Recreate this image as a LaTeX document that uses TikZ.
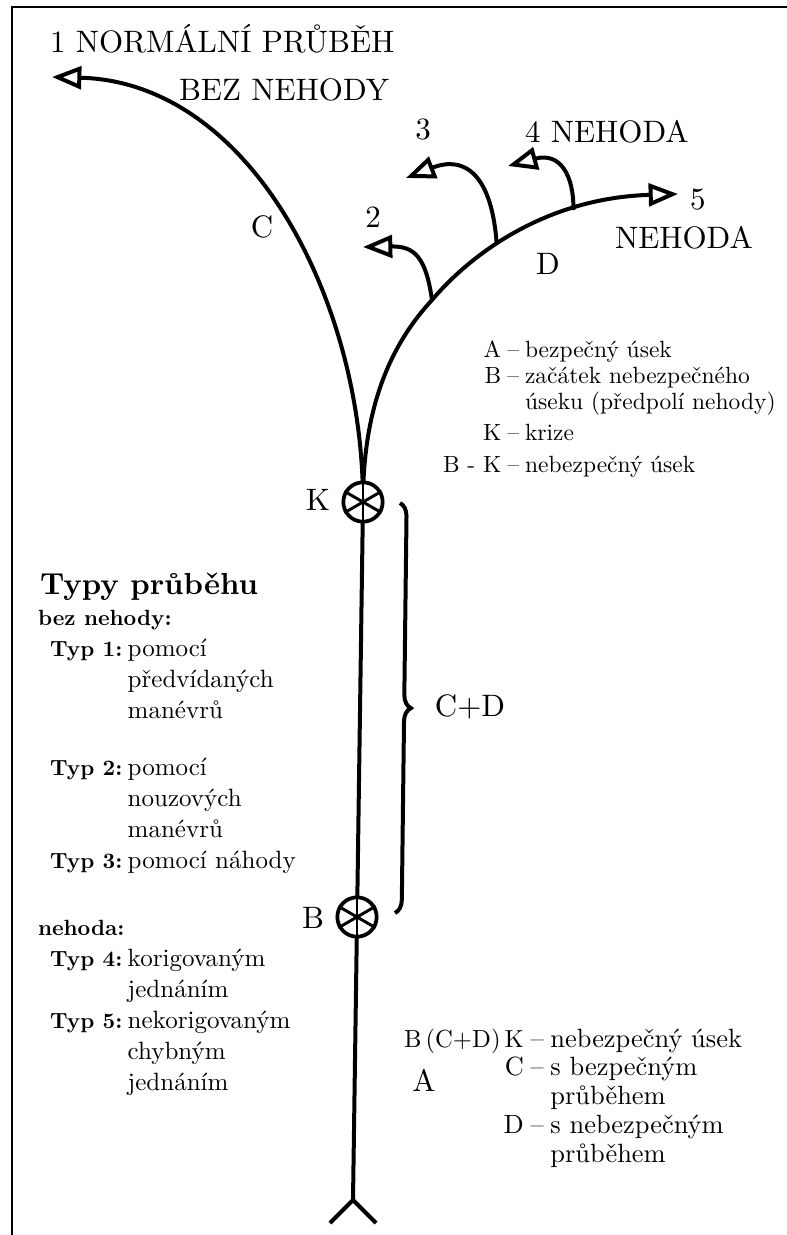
\documentclass[tikz,border=0pt]{standalone}
\usepackage{fontspec}
\setmainfont{lmroman10-regular}[Extension=.otf, BoldFont=lmroman10-bold]
\usetikzlibrary{arrows.meta,decorations.pathreplacing,positioning}

\newcommand{\lblsize}{\fontsize{23.25}{28}\selectfont}
\newcommand{\keysize}{\fontsize{17.6}{19.5}\selectfont}
\newcommand{\keybsize}{\fontsize{19.8}{21.6}\selectfont}
\newcommand{\typsize}{\fontsize{18.75}{23.25}\selectfont}
\newcommand{\typb}{\bfseries\fontsize{16.5}{20}\selectfont}

\begin{document}
\begin{tikzpicture}[x=0.75pt, y=-0.75pt, line width=3pt,
    outcome/.style={-{Triangle[open, length=22pt, width=17pt]}},
    wheel/.style={circle, draw, fill=white, line width=2.8pt, minimum size=29.5pt, inner sep=0pt},
    spoke/.style={line width=2.2pt},
    lbl/.style={font=\lblsize, inner sep=0pt},
    keytext/.style={inner sep=0pt, anchor=base west}]
    \useasboundingbox (0,0) rectangle (787,1235);

    \coordinate (k) at (363,502);
    \coordinate (b) at (357,917);
    \coordinate (fork) at (353,1200);
    \coordinate (legL) at (330,1223);
    \coordinate (legR) at (376,1223);
    \coordinate (end1) at (52,77);
    \coordinate (end5) at (678,194);
    \coordinate (br2) at (432,300);
    \coordinate (end2) at (363,247);
    \coordinate (end3) at (406,178);
    \coordinate (end4) at (508,166);
    \coordinate (braceTop) at (400,503);
    \coordinate (braceBot) at (395,913);

    % Frame
    \draw[line width=1.5pt] (12,1235) -- (12,7) -- (787,7);

    % Trunk
    \draw (legL) -- (fork) -- (legR);
    \draw (fork) -- (k);

    % Branches C and D
    \draw[outcome] (k) .. controls (363,300) and (250,82) .. (end1);
    \draw[outcome] (k) .. controls (363,400) and (395,340) .. (br2)
        .. controls (470,255) and (545,198) .. (end5)
        coordinate[pos=0.4] (br3) coordinate[pos=0.7] (br4);

    % Side branches
    \draw[outcome] (br2) .. controls (426,258) and (415,246) .. (end2);
    \draw[outcome] (br3) .. controls (492,175) and (465,155) .. (end3);
    \draw[outcome] (br4) .. controls (574,175) and (560,152) .. (end4);

    % Points K and B
    \node[wheel] (K) at (k) {};
    \node[wheel] (B) at (b) {};
    \draw[spoke] (K.90) -- (K.270);
    \draw[spoke] (K.30) -- (K.210);
    \draw[spoke] (K.150) -- (K.330);
    \draw[spoke] (B.90) -- (B.270);
    \draw[spoke] (B.30) -- (B.210);
    \draw[spoke] (B.150) -- (B.330);

    % Brace
    \draw[decorate, decoration={brace, amplitude=10pt}] (braceTop) -- (braceBot);

    % Labels
    \node[lbl, anchor=base west] (out1) at (48,52) {1 NORMÁLNÍ PRŮBĚH};
    \node[lbl, anchor=base west] (out1b) at (177,100) {BEZ NEHODY};
    \node[lbl] (labC) at (262,227) {C};
    \node[lbl] (out2) at (373,217) {2};
    \node[lbl] (out3) at (423,130) {3};
    \node[lbl, anchor=base west] (out4) at (523,142) {4 NEHODA};
    \node[lbl, anchor=base west] (out5) at (688,209) {5};
    \node[lbl, anchor=base west] (out5b) at (613,248) {NEHODA};
    \node[lbl] (labD) at (548,264) {D};
    \node[lbl] (labK) at (318,500) {K};
    \node[lbl] (labB) at (313,918) {B};
    \node[lbl] (labCD) at (470,707) {C+D};
    \node[lbl] (labA) at (424,1080) {A};

    % Key, top right
    \node[keytext, font=\keysize] (key1) at (441,357) {%
        \begin{tabular}[t]{@{}r@{\hspace{4.5pt}}c@{\hspace{4.5pt}}l@{}}
        A & -- & bezpečný úsek\\
        B & -- & začátek nebezpečného\\
          &    & úseku (předpolí nehody)\\[3.75pt]
        K & -- & krize\\[4.5pt]
        B - K & -- & nebezpečný úsek
        \end{tabular}};

    % Key, bottom right
    \node[keytext, font=\keybsize] (key2) at (402,1047) {%
        \begin{tabular}[t]{@{}r@{\hspace{5pt}}c@{\hspace{5pt}}l@{}}
        {\fontsize{18.5}{20}\selectfont B\,(C+D)\,K} & -- & nebezpečný úsek\\
        C & -- & s bezpečným\\
          &    & průběhem\\
        D & -- & s nebezpečným\\
          &    & průběhem
        \end{tabular}};

    % Types
    \node[keytext, font=\bfseries\fontsize{22.8}{27}\selectfont] (types) at (38,594) {Typy průběhu};
    \node[keytext, font=\typsize] (typelist) at (36,625) {%
        \begin{tabular}[t]{@{\hspace{9pt}}l@{\hspace{4pt}}l@{}}
        \multicolumn{2}{@{}l@{}}{\typb bez nehody:}\\
        \typb Typ 1: & pomocí\\
                     & předvídaných\\
                     & manévrů\\[19.5pt]
        \typb Typ 2: & pomocí\\
                     & nouzových\\
                     & manévrů\\
        \typb Typ 3: & pomocí náhody\\[27pt]
        \multicolumn{2}{@{}l@{}}{\typb nehoda:}\\
        \typb Typ 4: & korigovaným\\
                     & jednáním\\
        \typb Typ 5: & nekorigovaným\\
                     & chybným\\
                     & jednáním
        \end{tabular}};
\end{tikzpicture}
\end{document}
